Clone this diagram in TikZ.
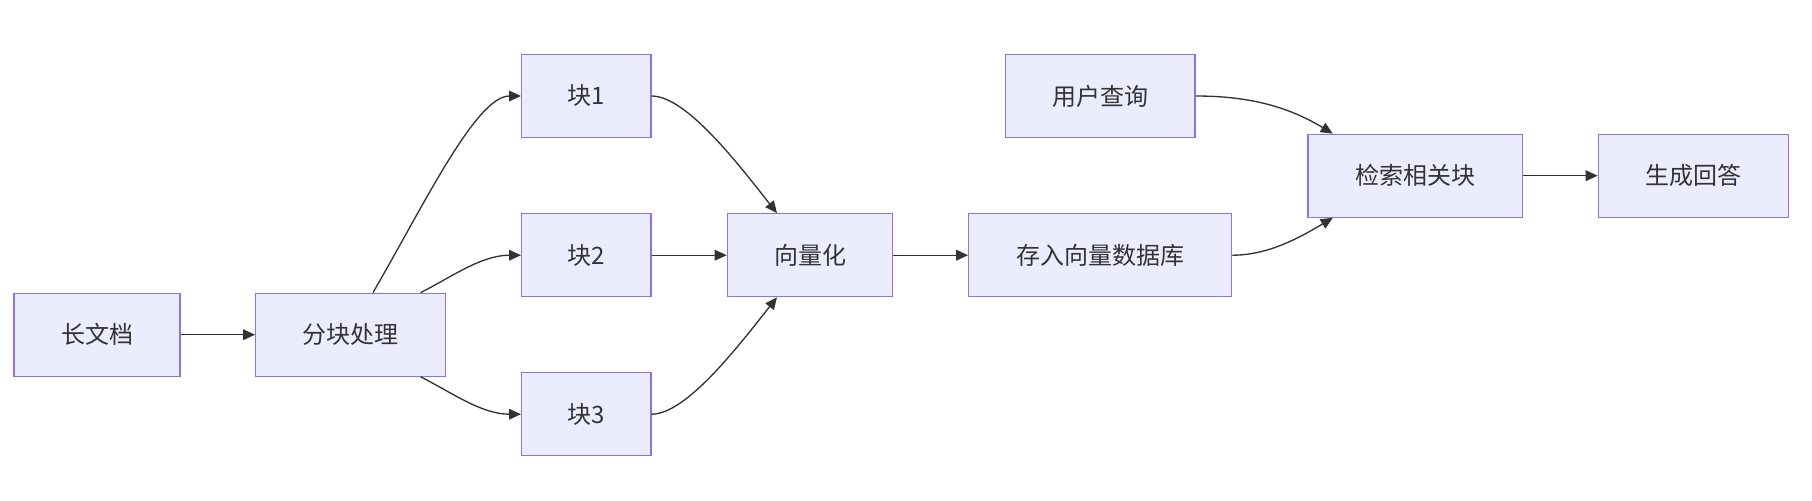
\documentclass[tikz,border=0pt]{standalone}
\usepackage{fontspec}
\setmainfont{Noto Sans CJK SC}
\usetikzlibrary{arrows.meta,calc}
\definecolor{nodefill}{HTML}{ECECFF}
\definecolor{nodeline}{HTML}{9370DB}
\definecolor{ink}{HTML}{333333}
\begin{document}
\begin{tikzpicture}[x=0.75pt,y=-0.75pt,
  box/.style={draw=nodeline,fill=nodefill,line width=0.9pt,inner sep=0pt,
    minimum height=62.25pt,text=ink,font=\fontsize{18pt}{22pt}\selectfont},
  conn/.style={draw=ink,line width=1pt,-{Triangle[length=9pt,width=8pt]}}]
\useasboundingbox[fill=white] (0,0) rectangle (1812,500);
\node[box,minimum width=124.5pt] (doc) at (97,334.7) {长文档};
\node[box,minimum width=142.5pt] (fk) at (350.7,334.7) {分块处理};
\node[box,minimum width=97pt] (k1) at (586.3,96) {块1};
\node[box,minimum width=97pt] (k2) at (586.3,255.2) {块2};
\node[box,minimum width=97pt] (k3) at (586.3,414.2) {块3};
\node[box,minimum width=124pt] (vec) at (810,255.2) {向量化};
\node[box,minimum width=197.25pt] (db) at (1100.2,255.2) {存入向量数据库};
\node[box,minimum width=142pt] (q) at (1100.3,96) {用户查询};
\node[box,minimum width=160.7pt] (ret) at (1415.2,175.7) {检索相关块};
\node[box,minimum width=142.5pt] (ans) at (1693.3,175.7) {生成回答};

\draw[conn] (doc) -- (fk);
\draw[conn] ($(fk.north)+(22.3,0)$) .. controls +(50,-86) and +(-45,0) .. (k1.west);
\draw[conn] ($(fk.north east)+(-25.7,0)$) .. controls +(30,-15) and +(-40,0) .. (k2.west);
\draw[conn] ($(fk.south east)+(-25.7,0)$) .. controls +(30,15) and +(-40,0) .. (k3.west);
\draw[conn] (k1.east) .. controls +(35,0) and +(-38,-48) .. ($(vec.north)+(-33,0)$);
\draw[conn] (k2) -- (vec);
\draw[conn] (k3.east) .. controls +(35,0) and +(-38,48) .. ($(vec.south)+(-33,0)$);
\draw[conn] (vec) -- (db);
\draw[conn] (q.east) .. controls +(60,0) and +(-40,-24) .. ($(ret.north west)+(25.3,0)$);
\draw[conn] (db.east) .. controls +(35,0) and +(-35,21) .. ($(ret.south west)+(25.3,0)$);
\draw[conn] (ret) -- (ans);
\end{tikzpicture}
\end{document}
